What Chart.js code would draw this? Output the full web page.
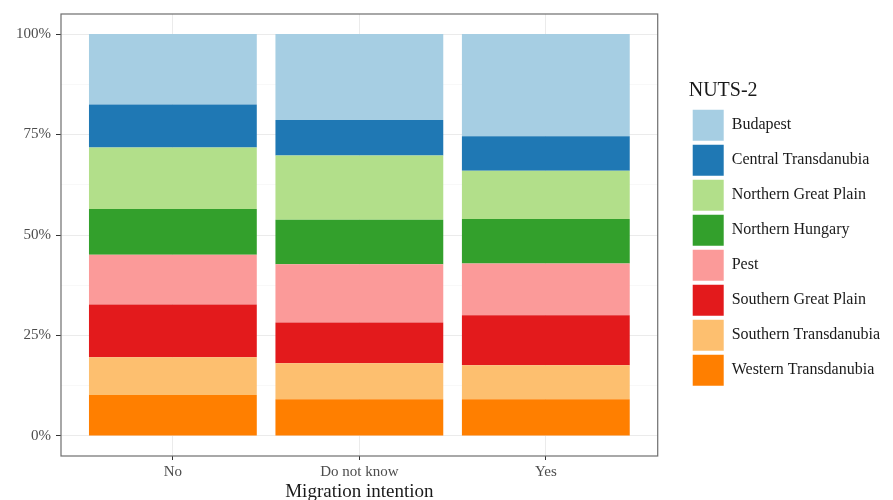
<!DOCTYPE html>
<html><head><meta charset="utf-8">
<script src="https://cdn.jsdelivr.net/npm/chart.js@4/dist/chart.umd.min.js"></script>
<style>html,body{margin:0;padding:0;background:#fff}#wrap{width:893px;height:500px}</style>
</head><body><div id="wrap"><canvas id="c" width="893" height="500"></canvas></div>
<script>
// ---- data ----
const categories = ['No', 'Do not know', 'Yes'];
const regions = ['Budapest', 'Central Transdanubia', 'Northern Great Plain', 'Northern Hungary',
                 'Pest', 'Southern Great Plain', 'Southern Transdanubia', 'Western Transdanubia'];
const budapest             = [17.5, 21.4, 25.4];
const centralTransdanubia  = [10.7,  8.8,  8.6];
const northernGreatPlain   = [15.3, 16.0, 12.0];
const northernHungary      = [11.4, 11.1, 11.1];
const pest                 = [12.4, 14.5, 12.9];
const southernGreatPlain   = [13.1, 10.1, 12.4];
const southernTransdanubia = [ 9.4,  9.0,  8.5];
const westernTransdanubia  = [10.2,  9.1,  9.1];
const yTickLabels = ['0%', '25%', '50%', '75%', '100%'];
const yTickValues = [0, 25, 50, 75, 100];

// ---- styling ----
const regionValues = [budapest, centralTransdanubia, northernGreatPlain, northernHungary,
                      pest, southernGreatPlain, southernTransdanubia, westernTransdanubia];
const palette = ['#A6CEE3', '#1F78B4', '#B2DF8A', '#33A02C', '#FB9A99', '#E31A1C', '#FDBF6F', '#FF7F00'];
const FONT = "'Liberation Serif', 'Times New Roman', serif";

// stacked bottom-to-top: Western Transdanubia first
const datasets = [];
for (let i = regions.length - 1; i >= 0; i--) {
  datasets.push({
    label: regions[i],
    data: regionValues[i].map((v, k) => ({x: k + 1, y: v})),
    backgroundColor: palette[i],
    borderWidth: 0,
    categoryPercentage: 0.9,
    barPercentage: 1.0
  });
}

const panelBorder = {
  id: 'panelBorder',
  afterDatasetsDraw(chart) {
    const {ctx, chartArea: a} = chart;
    ctx.save();
    ctx.strokeStyle = '#6e6e6e';
    ctx.lineWidth = 1.2;
    ctx.strokeRect(a.left, a.top, a.right - a.left, a.bottom - a.top);
    ctx.restore();
  }
};

new Chart(document.getElementById('c'), {
  type: 'bar',
  data: {datasets},
  plugins: [panelBorder],
  options: {
    responsive: false,
    devicePixelRatio: 1,
    animation: false,
    layout: {padding: {top: 14, right: 3, bottom: 0, left: 0}},
    plugins: {
      tooltip: {enabled: false},
      legend: {
        position: 'right',
        fullSize: false,
        reverse: true,
        align: 'center',
        maxWidth: 260,
        title: {display: true, text: 'NUTS-2', position: 'start',
                color: '#1a1a1a', font: {family: FONT, size: 20}, padding: {top: 0, bottom: 1.5}},
        labels: {boxWidth: 31, boxHeight: 31, padding: 4, color: '#1a1a1a',
                 font: {family: FONT, size: 16}}
      }
    },
    scales: {
      x: {
        type: 'linear',
        stacked: true,
        min: 0.4, max: 3.6,
        offset: false,
        grid: {offset: false, color: '#ebebeb', lineWidth: 1, tickColor: '#333', tickLength: 4, drawTicks: true},
        border: {display: false},
        ticks: {stepSize: 1, includeBounds: false, autoSkip: false, maxRotation: 0, padding: 3,
                color: '#4d4d4d', font: {family: FONT, size: 15},
                callback: (v) => categories[v - 1] ?? ''},
        title: {display: true, text: 'Migration intention', color: '#1a1a1a',
                font: {family: FONT, size: 19}, padding: {top: 0, bottom: -3}},
        afterFit: (s) => { s.height = 44; }
      },
      y: {
        stacked: true,
        min: -5, max: 105,
        grid: {
          color: (c) => (c.tick && yTickValues.includes(c.tick.value)) ? '#ebebeb' : '#f4f4f4',
          lineWidth: (c) => (c.tick && yTickValues.includes(c.tick.value)) ? 1 : 0.6,
          tickColor: (c) => (c.tick && yTickValues.includes(c.tick.value)) ? '#333' : 'rgba(0,0,0,0)',
          tickLength: 5
        },
        border: {display: false},
        ticks: {stepSize: 12.5, includeBounds: false, autoSkip: false, padding: 5,
                color: '#4d4d4d', font: {family: FONT, size: 15},
                callback: (v) => { const i = yTickValues.indexOf(v); return i >= 0 ? yTickLabels[i] : ''; }},
        afterFit: (s) => { s.width = 61; }
      },
      spacer: {
        type: 'linear', position: 'right', display: true,
        grid: {display: false, drawTicks: false}, border: {display: false},
        ticks: {display: false},
        afterFit: (s) => { s.width = 31; }
      }
    }
  }
});
</script>
</body></html>
